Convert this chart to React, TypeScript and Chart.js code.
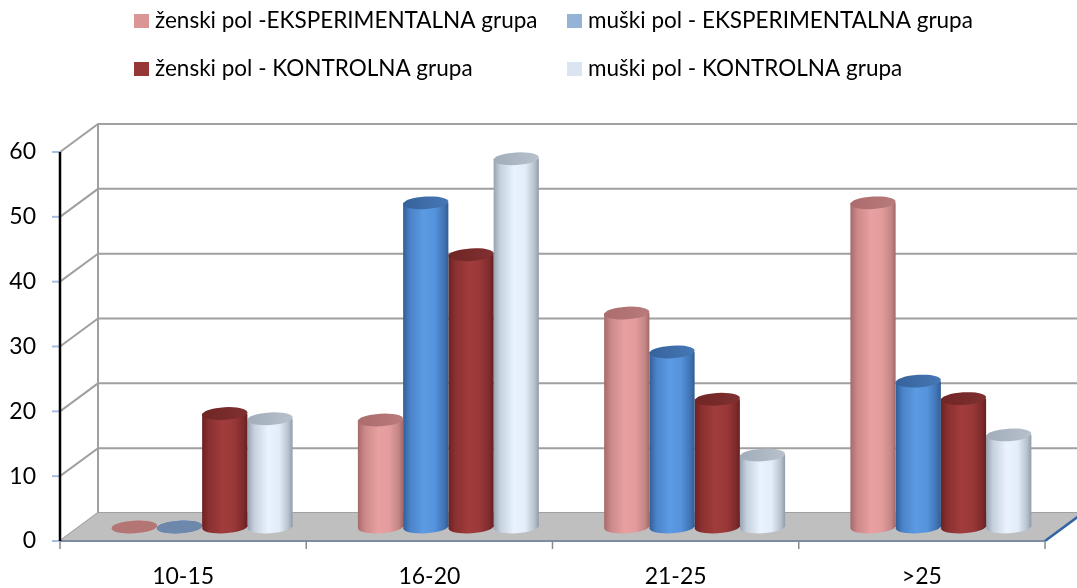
import React, { useEffect, useRef } from 'react';
import { Chart, registerables } from 'chart.js';

Chart.register(...registerables);

// ---------- data ----------
const categories = ['10-15', '16-20', '21-25', '>25'];
const seriesLabels = [
  'ženski pol -EKSPERIMENTALNA grupa',
  'muški pol - EKSPERIMENTALNA grupa',
  'ženski pol - KONTROLNA grupa',
  'muški pol - KONTROLNA grupa',
];
const zenskiEksperimentalna = [0, 16.5, 33, 50];
const muskiEksperimentalna = [0, 50, 27, 22.5];
const zenskiKontrolna = [17.5, 42, 19.7, 19.8];
const muskiKontrolna = [16.7, 56.8, 11.1, 14.2];
const yTickValues = [0, 10, 20, 30, 40, 50, 60];

// ---------- styles ----------
const FONT = 'Lato';
const FONT_SIZE = 23;
const LEGEND_FONT_SIZE = 22.5;
const MID = { dx: 19, dy: -14 }; // bars stand in the middle of the depth
const BACK = { dx: 38, dy: -28 }; // back wall offset
const RY = 6.3;
const TILT = -0.06;

const legendColors = ['#d99694', '#95b3d7', '#953735', '#dbe5f1'];
const bodyStops = [
  ['#a56a6a', '#cc8888', '#e8a0a0', '#e39b9b', '#c48686', '#a06868'],
  ['#315d96', '#4a82c8', '#5c9be3', '#5593dc', '#4174b5', '#325d93'],
  ['#6c2121', '#8a3030', '#a03c3c', '#9a3838', '#7f2c2c', '#692020'],
  ['#97a3b1', '#c6d1de', '#e9f2fd', '#e3edf9', '#b8c3cf', '#919cab'],
];
const topStops = [
  ['#aa6c6c', '#b87a7a'],
  ['#36629b', '#4678b6'],
  ['#702525', '#803030'],
  ['#a2adba', '#b6c1cc'],
];
const zeroTopColors = ['#b47575', '#6d88aa', '#803030', '#b0bac6'];
const stopPos = [0, 0.15, 0.45, 0.7, 0.9, 1];

const seriesValues = [zenskiEksperimentalna, muskiEksperimentalna, zenskiKontrolna, muskiKontrolna];

function bodyGradient(ctx: CanvasRenderingContext2D, x0: number, x1: number, i: number) {
  const g = ctx.createLinearGradient(x0, 0, x1, 0);
  bodyStops[i].forEach((c, k) => g.addColorStop(stopPos[k], c));
  return g;
}

const scenePlugin = {
  id: 'scene3d',
  beforeDatasetsDraw(chart: any) {
    const { ctx, chartArea: a, scales } = chart;
    const y = scales.y;
    const x = scales.x;
    ctx.save();
    // back wall gridlines + left wall diagonals
    ctx.strokeStyle = '#a0a0a0';
    ctx.lineWidth = 2;
    yTickValues.forEach((v) => {
      const py = y.getPixelForValue(v);
      ctx.beginPath();
      ctx.moveTo(a.left, py);
      ctx.lineTo(a.left + BACK.dx, py + BACK.dy);
      ctx.lineTo(chart.width + 10, py + BACK.dy);
      ctx.stroke();
    });
    ctx.beginPath();
    ctx.moveTo(a.left + BACK.dx, a.top + BACK.dy);
    ctx.lineTo(a.left + BACK.dx, a.bottom + BACK.dy);
    ctx.stroke();
    // floor
    ctx.fillStyle = '#bfbfbf';
    ctx.beginPath();
    ctx.moveTo(a.left, a.bottom);
    ctx.lineTo(a.right, a.bottom);
    ctx.lineTo(a.right + BACK.dx, a.bottom + BACK.dy);
    ctx.lineTo(a.left + BACK.dx, a.bottom + BACK.dy);
    ctx.closePath();
    ctx.fill();
    // front edge of floor
    ctx.strokeStyle = '#7d8ca3';
    ctx.lineWidth = 2;
    ctx.beginPath();
    ctx.moveTo(a.left, a.bottom);
    ctx.lineTo(a.right, a.bottom);
    ctx.stroke();
    ctx.strokeStyle = '#3464a4';
    ctx.lineWidth = 2.5;
    ctx.beginPath();
    ctx.moveTo(a.right, a.bottom);
    ctx.lineTo(a.right + BACK.dx, a.bottom + BACK.dy);
    ctx.stroke();
    // x tick marks at category boundaries
    ctx.strokeStyle = '#8a8a8a';
    ctx.lineWidth = 1.5;
    const step = x.getPixelForValue(1) - x.getPixelForValue(0);
    for (let i = 0; i <= categories.length; i++) {
      const px = i < categories.length ? x.getPixelForValue(i) - step / 2 : a.right;
      ctx.beginPath();
      ctx.moveTo(px, a.bottom + 1);
      ctx.lineTo(px, a.bottom + 8);
      ctx.stroke();
    }
    // y axis
    ctx.strokeStyle = '#a7bde0';
    ctx.lineWidth = 2;
    yTickValues.forEach((v) => {
      const py = y.getPixelForValue(v);
      ctx.beginPath();
      ctx.moveTo(a.left - 8, py);
      ctx.lineTo(a.left, py);
      ctx.stroke();
    });
    ctx.strokeStyle = '#000';
    ctx.lineWidth = 2.5;
    ctx.beginPath();
    ctx.moveTo(a.left, a.top);
    ctx.lineTo(a.left, a.bottom);
    ctx.stroke();
    ctx.restore();

    // bars: translate to mid-depth
    ctx.save();
    ctx.translate(MID.dx, MID.dy);
    chart.data.datasets.forEach((_: any, i: number) => {
      const meta = chart.getDatasetMeta(i);
      meta.data.forEach((el: any) => {
        const w = el.width;
        const g = bodyGradient(ctx, el.x - w / 2, el.x + w / 2, i);
        el.options = Object.assign({}, el.options, { backgroundColor: g, borderWidth: 0 });
        ctx.fillStyle = g;
        ctx.beginPath();
        ctx.ellipse(el.x, el.base, w / 2, RY, TILT, 0, Math.PI * 2);
        ctx.fill();
      });
    });
  },
  afterDatasetsDraw(chart: any) {
    const { ctx } = chart;
    chart.data.datasets.forEach((_: any, i: number) => {
      const meta = chart.getDatasetMeta(i);
      meta.data.forEach((el: any) => {
        const w = el.width;
        const flat = Math.abs(el.base - el.y) < 1;
        if (flat) {
          ctx.fillStyle = zeroTopColors[i];
        } else {
          const g = ctx.createLinearGradient(el.x - w / 2, 0, el.x + w / 2, 0);
          g.addColorStop(0, topStops[i][0]);
          g.addColorStop(1, topStops[i][1]);
          ctx.fillStyle = g;
        }
        ctx.beginPath();
        ctx.ellipse(el.x, el.y, w / 2, RY, TILT, 0, Math.PI * 2);
        ctx.fill();
      });
    });
    ctx.restore();
  },
  afterDraw(chart: any) {
    const { ctx } = chart;
    const boxX = [134, 567];
    const baseY = [28, 76];
    ctx.save();
    ctx.font = `${LEGEND_FONT_SIZE}px ${FONT}`;
    ctx.textBaseline = 'alphabetic';
    ctx.textAlign = 'left';
    chart.data.datasets.forEach((ds: any, i: number) => {
      const bx = boxX[i % 2];
      const by = baseY[Math.floor(i / 2)];
      ctx.fillStyle = legendColors[i];
      ctx.fillRect(bx, by - 14, 15, 14);
      ctx.fillStyle = '#000';
      ctx.fillText(ds.label, bx + 21, by);
    });
    ctx.restore();
  },
};

export default function App() {
  const ref = useRef<HTMLCanvasElement | null>(null);
  useEffect(() => {
    if (!ref.current) return;
    const chart = new Chart(ref.current, {
      type: 'bar',
      data: {
        labels: categories,
        datasets: seriesLabels.map((label, i) => ({
          label,
          data: seriesValues[i],
          backgroundColor: () => legendColors[i],
          borderWidth: 0,
          barPercentage: 1,
          categoryPercentage: 0.735,
          clip: false as any,
        })),
      },
      options: {
        animation: false,
        responsive: false,
        maintainAspectRatio: false,
        events: [],
        layout: { padding: { top: 152, right: 32, left: 0, bottom: 0 } },
        plugins: { legend: { display: false }, tooltip: { enabled: false } },
        scales: {
          x: {
            grid: { display: false, drawTicks: false },
            border: { display: false },
            ticks: { font: { family: FONT, size: FONT_SIZE }, color: '#000', padding: 22 },
            afterFit: (s: any) => { s.height = 47; },
          },
          y: {
            min: 0,
            max: 60,
            grid: { display: false, drawTicks: false },
            border: { display: false },
            ticks: { stepSize: 10, font: { family: FONT, size: FONT_SIZE }, color: '#000', padding: 24 },
            afterFit: (s: any) => { s.width = 60; },
          },
        },
      },
      plugins: [scenePlugin],
    });
    return () => chart.destroy();
  }, []);
  return (
    <div style={{ position: 'fixed', left: 0, top: 0, width: 1077, height: 588, background: '#fff' }}>
      <canvas ref={ref} width={1077} height={588} style={{ display: 'block', width: 1077, height: 588 }} />
    </div>
  );
}
